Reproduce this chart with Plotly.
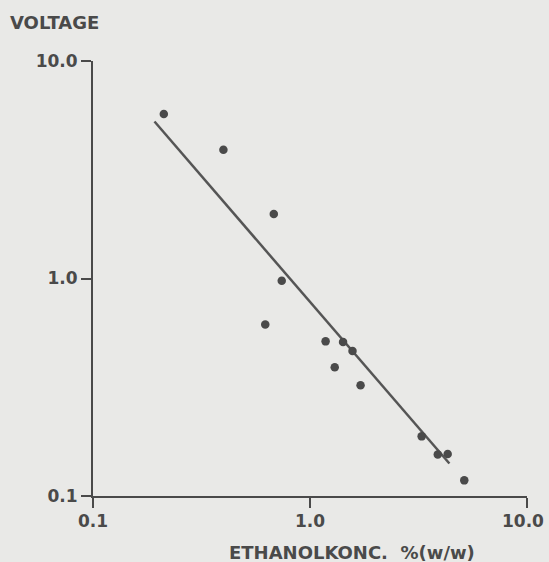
import math
import plotly.graph_objects as go

# Measured data points (ethanol concentration %(w/w), voltage)
ethanol = [0.212, 0.399, 0.681, 0.741, 0.622, 1.18, 1.42, 1.57, 1.30, 1.71, 3.27, 3.88, 4.31, 5.14]
voltage = [5.71, 3.91, 1.98, 0.976, 0.615, 0.514, 0.51, 0.464, 0.391, 0.323, 0.188, 0.155, 0.156, 0.118]

# Regression line end points
fit_x = [0.192, 4.39]
fit_y = [5.27, 0.141]

tick_vals = [0.1, 1.0, 10.0]
tick_text = ["0.1", "1.0", "10.0"]

bg = "#e9e9e7"
ink = "#4a4a4a"
font = dict(family="DejaVu Sans", size=17, color=ink, weight="bold")

fig = go.Figure()
fig.add_trace(go.Scatter(x=fit_x, y=fit_y, mode="lines",
                         line=dict(color="#555555", width=2.5), hoverinfo="skip"))
fig.add_trace(go.Scatter(x=ethanol, y=voltage, mode="markers",
                         marker=dict(color="#4a4a4a", size=8.5)))

axis_common = dict(type="log", range=[-1, 1], tickvals=tick_vals, ticktext=tick_text,
                   showgrid=False, zeroline=False, showline=True, linecolor=ink, linewidth=2,
                   ticks="outside", ticklen=10, tickwidth=2, tickcolor=ink,
                   tickfont=font, fixedrange=True, automargin=False)

# x tick labels drawn as annotations so the last one can sit fully inside the page
x_label_shift = [0, 0, -4]
tick_annots = [
    dict(text=t, x=math.log10(v), xref="x", y=0, yref="paper", yshift=-25,
         xshift=s, xanchor="center", yanchor="middle", showarrow=False, font=font)
    for v, t, s in zip(tick_vals, tick_text, x_label_shift)
]

fig.update_layout(
    width=549, height=562,
    margin=dict(l=93, r=22, t=61, b=66, autoexpand=False),
    paper_bgcolor=bg, plot_bgcolor=bg,
    showlegend=False,
    xaxis=dict(axis_common, showticklabels=False),
    yaxis=axis_common,
    annotations=[
        dict(text="VOLTAGE", xref="paper", yref="paper", x=-85/434, y=1 + 38/435,
             xanchor="left", yanchor="middle", showarrow=False,
             font=dict(family="DejaVu Sans", size=18, color=ink, weight="bold")),
        dict(text="ETHANOLKONC.\u00a0\u00a0%(w/w)", xref="paper", yref="paper",
             x=(352 - 93) / 434, y=-(552 - 496) / 435,
             xanchor="center", yanchor="middle", showarrow=False,
             font=dict(family="DejaVu Sans", size=18, color=ink, weight="bold")),
    ] + tick_annots,
)

fig.write_html("out.html")
